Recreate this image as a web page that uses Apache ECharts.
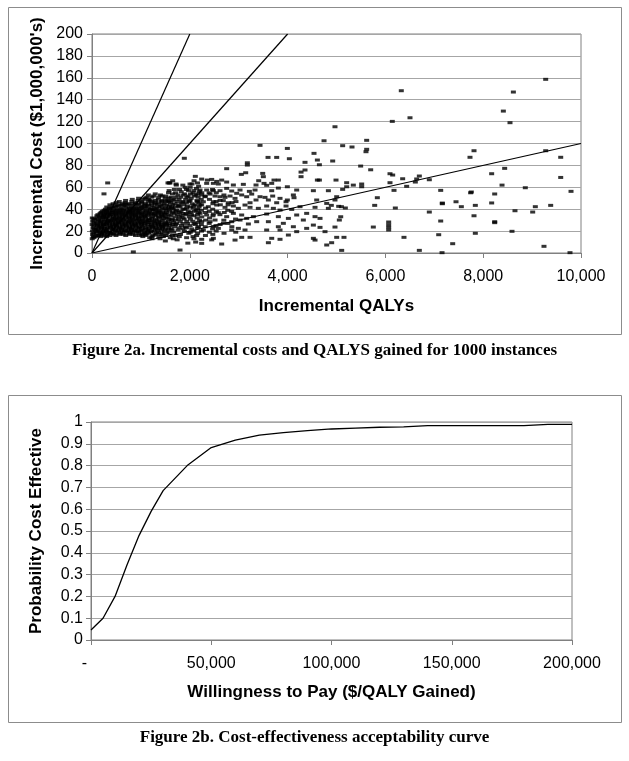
<!DOCTYPE html>
<html><head><meta charset="utf-8">
<script src="https://cdn.jsdelivr.net/npm/echarts@6.0.0/dist/echarts.min.js"></script>
<style>html,body{margin:0;padding:0;background:#fff}#c{width:629px;height:761px}</style>
</head><body><div id="c"></div>
<script>
// ---------- Figure 2a data (Incremental QALYs, Incremental Cost $1,000,000's) ----------
const denseClusterPoints = [
[5,13],[12,17],[8,20],[20,23],[3,26],[15,29],[6,32],[25,15],
[70,15],[95,18],[80,22],[105,25],[88,27],[60,31],[100,34],[75,20],
[140,16],[160,19],[130,21],[155,24],[170,28],[135,30],[150,33],[165,36],
[200,17],[220,20],[195,23],[230,26],[205,29],[215,32],[240,35],[210,38],
[260,18],[280,21],[255,24],[290,27],[270,31],[250,34],[285,37],[275,40],[245,54],
[320,17],[340,19],[310,22],[350,25],[330,28],[345,30],[315,33],[335,36],[325,39],[355,41],[321,64],
[390,18],[410,21],[380,24],[420,26],[395,29],[405,32],[385,35],[415,38],[400,42],
[450,17],[470,20],[445,23],[480,27],[460,30],[440,33],[475,36],[455,39],[465,43],
[510,19],[530,22],[505,25],[540,28],[520,31],[500,34],[535,37],[515,40],[525,44],
[580,18],[600,21],[575,24],[610,26],[590,29],[570,33],[605,35],[585,38],[595,41],[615,45],
[640,17],[660,20],[635,23],[670,27],[650,30],[630,32],[665,36],[645,39],[655,43],[675,46],
[710,19],[730,22],[705,25],[740,28],[720,31],[700,34],[735,37],[715,40],[725,44],
[780,18],[800,21],[775,24],[810,26],[790,30],[770,33],[805,35],[785,39],[795,42],[815,47],
[840,17],[860,20],[835,23],[870,27],[850,29],[830,32],[865,36],[845,38],[855,41],[875,45],[845,1],
[910,19],[930,22],[905,25],[940,28],[920,31],[900,34],[935,37],[915,40],[925,44],[945,48],
[980,16],[1000,20],[975,24],[1010,26],[990,29],[970,33],[1005,35],[985,39],[995,42],[1015,46],
[1040,15],[1060,18],[1035,21],[1070,25],[1050,28],[1030,31],[1065,34],[1045,37],[1055,41],[1075,44],[1050,49],
[1110,17],[1130,20],[1105,23],[1140,26],[1120,30],[1100,32],[1135,36],[1115,39],[1125,43],[1145,47],[1120,51],
[1180,14],[1200,19],[1175,22],[1210,25],[1190,28],[1170,31],[1205,35],[1185,38],[1195,40],[1215,45],[1190,48],
[1250,16],[1270,20],[1245,24],[1280,27],[1260,29],[1240,33],[1275,36],[1255,39],[1265,42],[1285,46],[1260,52],
[1320,18],[1340,21],[1315,23],[1350,26],[1330,30],[1310,34],[1345,37],[1325,41],[1335,44],[1355,49],
[1390,13],[1410,17],[1385,22],[1420,25],[1400,28],[1380,32],[1415,35],[1395,38],[1405,43],[1425,47],[1400,53],
[1460,15],[1480,20],[1455,24],[1490,27],[1470,31],[1450,33],[1485,36],[1465,40],[1475,45],[1495,50],
[1530,18],[1550,21],[1525,26],[1560,29],[1540,32],[1520,37],[1555,41],[1535,44],[1545,48],[1565,55],
[1600,14],[1620,22],[1595,25],[1630,30],[1610,34],[1590,38],[1625,42],[1605,46],[1615,51]
];
const denseClusterFill = [
[40,14],[35,18],[45,22],[38,25],[42,28],[36,31],
[115,16],[110,20],[120,23],[112,26],[118,29],[108,32],[122,35],
[185,15],[180,18],[190,22],[183,25],[188,27],[178,31],[192,34],[186,37],
[245,16],[240,19],[250,22],[242,26],[248,29],[238,33],[252,36],[246,39],
[300,15],[296,20],[305,23],[298,26],[303,29],[294,32],[306,35],[300,38],[302,42],
[365,16],[360,19],[370,23],[362,27],[368,30],[358,34],[372,37],[364,40],[366,44],
[430,18],[425,22],[435,25],[428,28],[432,31],[422,35],[437,37],[429,41],[431,45],
[490,16],[485,21],[495,24],[488,26],[492,29],[482,32],[497,35],[489,38],[491,42],[493,46],
[555,17],[550,20],[560,23],[552,27],[558,30],[548,32],[562,36],[554,39],[556,43],[557,47],
[620,19],[615,22],[625,25],[618,28],[622,31],[612,34],[627,37],[619,40],[621,44],
[690,16],[685,21],[695,24],[688,26],[692,29],[682,33],[697,35],[689,38],[691,42],[693,45],[687,48],
[760,17],[755,20],[765,23],[758,27],[762,29],[752,32],[767,36],[759,38],[761,41],[763,45],
[820,19],[815,22],[825,25],[818,28],[822,31],[812,34],[827,37],[819,40],[821,44],[823,49],
[890,16],[885,21],[895,24],[888,26],[892,30],[882,33],[897,35],[889,39],[891,42],[893,46],
[955,18],[950,20],[960,23],[952,27],[958,30],[948,32],[962,36],[954,38],[956,41],[957,45],[953,50],
[1020,17],[1015,22],[1025,24],[1018,27],[1022,30],[1012,33],[1027,36],[1019,40],[1021,43],[1023,47],
[1090,16],[1085,19],[1095,22],[1088,27],[1092,29],[1082,33],[1097,35],[1089,38],[1091,42],[1093,45],[1087,50],
[1155,18],[1150,21],[1160,24],[1152,28],[1158,30],[1148,34],[1162,37],[1154,41],[1156,44],[1157,49],[1153,53],
[1225,15],[1220,20],[1230,23],[1222,26],[1228,30],[1218,32],[1232,36],[1224,40],[1226,43],[1227,47],[1223,51],
[1295,17],[1290,22],[1300,25],[1292,28],[1298,31],[1288,35],[1302,38],[1294,40],[1296,45],[1297,48],[1293,54],
[1365,15],[1360,19],[1370,24],[1362,27],[1368,29],[1358,33],[1372,36],[1364,39],[1366,42],[1367,46],[1363,51],
[1435,18],[1430,21],[1440,23],[1432,26],[1438,30],[1428,34],[1442,37],[1434,41],[1436,44],[1437,48],[1433,52],
[1505,16],[1500,22],[1510,25],[1502,28],[1508,33],[1498,35],[1512,39],[1504,42],[1506,47],[1507,52],
[1575,19],[1570,23],[1580,27],[1572,31],[1578,35],[1568,40],[1582,43],[1574,47],[1576,50],[1577,57],
[1645,16],[1640,21],[1650,26],[1642,31],[1648,37],[1638,41],[1652,44],[1644,48],[1646,54]
];
const transitionPoints = [
[1670,19],[1690,24],[1665,28],[1700,33],[1680,36],[1660,40],[1695,45],[1675,49],[1685,58],
[1740,12],[1760,21],[1735,27],[1770,31],[1750,35],[1730,39],[1765,43],[1745,47],[1755,53],
[1810,17],[1830,25],[1805,29],[1840,34],[1820,38],[1800,42],[1835,46],[1815,51],[1825,56],
[1890,20],[1910,24],[1885,31],[1920,36],[1900,40],[1880,44],[1915,49],[1895,54],[1905,60],
[1960,9],[1980,18],[1955,27],[1990,33],[1970,38],[1950,43],[1985,47],[1965,52],[1975,57],
[2040,22],[2060,29],[2035,35],[2070,41],[2050,45],[2030,50],[2065,55],[2045,63],
[2120,10],[2140,16],[2115,26],[2150,32],[2130,39],[2110,44],[2145,48],[2125,53],[2135,59],
[2180,24],[2200,30],[2175,37],[2190,42],[2185,46],[2170,51],[2195,56],[2180,61],
[1554,64],[1724,62],[2113,70],[1581,64],[1718,63],[2004,63],[1888,86.5],[1800,2.7],
[2066,15],[1663,13],[1500,11],[1227,13],[1595,64],[1650,66],[2448,12]
];
const transitionFill = [
[1710,16],[1712,26],[1708,30],[1714,38],[1706,42],[1711,51],[1709,55],
[1785,15],[1782,23],[1788,33],[1784,37],[1786,44],[1781,49],[1789,58],
[1860,22],[1857,27],[1863,32],[1859,36],[1861,40],[1856,47],[1864,53],[1858,62],
[1935,14],[1932,23],[1938,29],[1934,35],[1936,41],[1931,46],[1939,51],[1933,58],
[2010,19],[2007,25],[2013,31],[2009,37],[2011,42],[2006,48],[2014,54],[2008,60],
[2085,13],[2082,20],[2088,27],[2084,34],[2086,38],[2081,43],[2089,52],[2083,57],[2087,66],
[2160,18],[2157,23],[2163,28],[2159,35],[2161,40],[2156,47],[2164,54],[2158,64],
[2240,20],[2236,26],[2244,33],[2238,39],[2242,44],[2235,49],[2245,55],
[2320,16],[2316,24],[2324,30],[2318,37],[2322,41],[2315,52],
[2400,19],[2396,27],[2404,32],[2398,38],[2402,49],[2395,55],
[2470,17],[2466,22],[2474,34],[2468,40],[2472,45],[2465,58],
[2540,20],[2536,25],[2544,38],[2538,47],[2542,55],
[2620,26],[2616,35],[2624,44],[2618,48],
[2700,18],[2696,30],[2704,37],[2698,53],
[2780,27],[2776,39],[2784,44],
[2860,24],[2856,38],[2864,46],
[2940,19],[2936,31],[2944,47]
];
const midRangePoints = [
[4745,102.5],[3436,98.3],[3995,95.5],[4540,91],[3600,87.3],[3777,87.3],[4036,86.1],[4609,84.9],
[4356,82.8],[3177,82.4],[3177,80.3],[4650,80.6],[2754,77],[4356,75.8],[4275,73.9],[3143,73.3],
[3491,72.7],[3054,71.8],[4275,69.7],[3504,69.7],[2243,67.5],[2359,66.6],[2448,67.2],[2550,65.4],
[2652,66.6],[2754,64.8],[3409,66],[3722,66.6],[3811,66.6],[4609,66.6],[4650,66.6],[3518,63.6],
[3675,63.6],[2345,63.6],[2482,63.6],[2584,63],[2891,62.1],[3095,62.7],[3354,62.1],[3572,61.8],
[3811,59.3],[3995,60.5],[4186,57.5],[4527,56.9],[4834,56.9],[2209,57.5],[2345,57.5],[2482,56.9],
[2618,56.9],[2754,59],[2857,56.6],[3027,57.5],[3218,56.3],[3334,57.5],[3675,56.9],[2959,54.5],
[2243,53],[2311,51.4],[2414,53.8],[2516,52],[2618,51.4],[2720,50.8],[2823,52],[2925,49.9],
[3061,53],[3163,51.4],[3266,53.8],[3354,48.4],[3436,51.4],[3538,50.8],[3607,48.4],[3695,52],
[3845,49.9],[3968,46.8],[4118,53],[4131,50.5],[4595,48.4],[2277,46.8],[2482,46.8],[2686,47.8],
[2788,45.9],[3232,45.9],[3777,45.9],[3995,48.4],[2209,43.8],[2379,42.3],[2550,43.8],[2720,41.7],
[2891,42.9],[2993,40.8],[3129,43.8],[3232,41.7],[3402,40.8],[3572,42.9],[3709,40.8],[3845,39.2],
[3968,42.9],[4084,39.8],[4254,42.3],[4561,41.7],[4800,45.3],[4834,40.8],[2209,36.2],[2345,34.7],
[2482,35.6],[2584,36.8],[2754,33.2],[2891,36.2],[3061,34.7],[3163,31.6],[3300,33.2],[3572,35.6],
[3811,33.2],[4016,31.6],[4186,34.7],[4390,36.2],[4561,33.2],[4663,31.6],[2243,28.6],[2414,28.6],
[2516,30.1],[2686,27.1],[2857,28.6],[3027,30.1],[3198,26.5],[3368,28.6],[3607,28.6],[3811,24],
[3913,27.1],[4118,24],[4322,30.1],[4527,25.5],[4663,23.4],[2277,21],[2482,24],[2584,22.5],
[2857,21],[2993,22.5],[3129,21],[3572,21],[3845,21],[4186,19.5],[4390,22.5],[4765,19.5],
[2243,12.5],[2482,13.4],[2652,8.2],[2925,11.8],[3061,14.3],[3232,14.3],[3675,13.4],[3845,12.5],
[4016,16.4],[4527,13.4],[4561,11.8],[4800,7.3],[3607,9.4],[2243,8.8]
];
const upperRangePoints = [
[6325,148.2],[6503,123.5],[6141,120.2],[4969,115.3],[5617,102.9],[5126,98],[5317,96.8],[5617,94.7],
[5603,92.5],[4922,84],[5494,79.4],[5699,76],[6094,72.4],[6149,71.2],[6353,67.8],[6694,70.3],
[6640,67.6],[6612,64.8],[6898,66.9],[6094,64.2],[6435,60.9],[6176,57.2],[7131,57.2],[4990,66.6],
[5208,64.2],[5208,60.5],[5344,62],[5515,63],[5515,60.5],[5126,58.1],[5004,51.4],[4969,48.4],
[5835,50.5],[5781,43.5],[6203,41.1],[7164,45],[7164,45.6],[5045,42.6],[5100,42.3],[5181,41.1],
[4894,43.5],[5086,33.1],[5058,30.1],[6898,37.4],[7131,29.2],[4969,23.7],[5753,23.7],[6067,28.3],
[6067,25.8],[6067,23.4],[6067,21],[5004,14.3],[5153,14.3],[6380,14.3],[7090,16.7],[4901,9.4],
[5106,2.4],[6694,2.4],[7158,0.3]
];
const farRangePoints = [
[9278,158.6],[8617,147],[8412,129.6],[8548,119],[7812,93.4],[7730,87.4],[9278,93.4],[9585,87.4],
[8439,77.3],[8173,72.4],[9585,69],[8385,62],[8861,59.6],[7757,55.7],[7743,55],[8235,53.9],
[9796,56.3],[7444,46.8],[7553,42.3],[7839,43.5],[8173,45.7],[9380,43.5],[9066,42.3],[9012,37.4],
[8650,38.6],[7812,34],[8235,27.7],[8235,28.6],[7839,18],[8589,19.8],[7376,8.5],[9243,6.1],[9775,0.3]
];
// Reference willingness-to-pay lines through the origin
const wtpLine100k = [[0,0],[2000,200]];
const wtpLine50k = [[0,0],[4000,200]];
const wtpLine10k = [[0,0],[10000,100]];

// ---------- Figure 2b data (CEAC) ----------
const ceacWtp = [0,5000,10000,15000,20000,25000,30000,40000,50000,60000,70000,80000,90000,100000,110000,120000,130000,140000,150000,160000,170000,180000,190000,200000];
const ceacProb = [0.046,0.10,0.20,0.345,0.48,0.59,0.685,0.80,0.883,0.917,0.94,0.951,0.96,0.968,0.972,0.976,0.978,0.983,0.983,0.983,0.983,0.983,0.989,0.989];

const caption2a = 'Figure 2a. Incremental costs and QALYS gained for 1000 instances';
const caption2b = 'Figure 2b. Cost-effectiveness acceptability curve';

const allScatter = [].concat(denseClusterPoints, denseClusterFill, transitionPoints, transitionFill, midRangePoints, upperRangePoints, farRangePoints);
const ceacData = ceacWtp.map((w, i) => [w, ceacProb[i]]);

const SANS = "'Liberation Sans', Arial, sans-serif";
const SERIF = "'Liberation Serif', 'Times New Roman', serif";
const comma = v => v.toLocaleString('en-US');
const axisBase = {
  axisLine: {show: true, lineStyle: {color: '#808080', width: 1}},
  axisTick: {show: true, inside: false, length: 5, lineStyle: {color: '#808080'}},
  axisLabel: {color: '#000', fontFamily: SANS, fontSize: 16},
  nameTextStyle: {color: '#000', fontFamily: SANS, fontSize: 17, fontWeight: 'bold'},
  nameLocation: 'middle'
};

const chart = echarts.init(document.getElementById('c'), null, {renderer: 'canvas'});
chart.setOption({
  animation: false,
  backgroundColor: '#fff',
  title: [
    {text: caption2a, left: 'center', top: 342, padding: 0, textStyle: {fontFamily: SERIF, fontWeight: 'bold', fontSize: 17, color: '#000'}},
    {text: caption2b, left: 'center', top: 729, padding: 0, textStyle: {fontFamily: SERIF, fontWeight: 'bold', fontSize: 17, color: '#000'}}
  ],
  graphic: [
    {type: 'rect', silent: true, shape: {x: 8.5, y: 7.5, width: 613, height: 327}, style: {fill: 'none', stroke: '#8c8c8c', lineWidth: 1}},
    {type: 'rect', silent: true, shape: {x: 8.5, y: 395.5, width: 613, height: 327}, style: {fill: 'none', stroke: '#8c8c8c', lineWidth: 1}}
  ],
  grid: [
    {left: 92, top: 34, width: 489, height: 219, show: true, borderColor: '#808080', borderWidth: 1, backgroundColor: 'transparent'},
    {left: 91, top: 422, width: 481, height: 218, show: true, borderColor: '#808080', borderWidth: 1, backgroundColor: 'transparent'}
  ],
  xAxis: [
    Object.assign({}, axisBase, {gridIndex: 0, type: 'value', min: 0, max: 10000, interval: 2000,
      name: 'Incremental QALYs', nameGap: 45, splitLine: {show: false},
      axisLabel: Object.assign({}, axisBase.axisLabel, {margin: 16, formatter: comma})}),
    Object.assign({}, axisBase, {gridIndex: 1, type: 'value', min: 0, max: 200000, interval: 50000,
      name: 'Willingness to Pay ($/QALY Gained)', nameGap: 44, splitLine: {show: false},
      axisLabel: Object.assign({}, axisBase.axisLabel, {margin: 16, formatter: v => v === 0 ? '-   ' : comma(v)})})
  ],
  yAxis: [
    Object.assign({}, axisBase, {gridIndex: 0, type: 'value', min: 0, max: 200, interval: 20,
      name: "Incremental Cost ($1,000,000's)", nameGap: 46,
      splitLine: {show: true, lineStyle: {color: '#a6a6a6', width: 1}},
      axisLabel: Object.assign({}, axisBase.axisLabel, {margin: 9})}),
    Object.assign({}, axisBase, {gridIndex: 1, type: 'value', min: 0, max: 1, interval: 0.1,
      name: 'Probability Cost Effective', nameGap: 46,
      splitLine: {show: true, lineStyle: {color: '#a6a6a6', width: 1}},
      axisLabel: Object.assign({}, axisBase.axisLabel, {margin: 8, formatter: v => String(Math.round(v * 10) / 10)})})
  ],
  series: [
    {type: 'scatter', xAxisIndex: 0, yAxisIndex: 0, data: allScatter, symbol: 'rect', symbolSize: [5, 3],
      itemStyle: {color: '#000'}, silent: true, z: 3, large: false},
    {type: 'line', xAxisIndex: 0, yAxisIndex: 0, data: wtpLine100k, symbol: 'none', lineStyle: {color: '#000', width: 1.2}, z: 4, silent: true},
    {type: 'line', xAxisIndex: 0, yAxisIndex: 0, data: wtpLine50k, symbol: 'none', lineStyle: {color: '#000', width: 1.2}, z: 4, silent: true},
    {type: 'line', xAxisIndex: 0, yAxisIndex: 0, data: wtpLine10k, symbol: 'none', lineStyle: {color: '#000', width: 1.2}, z: 4, silent: true},
    {type: 'line', xAxisIndex: 1, yAxisIndex: 1, data: ceacData, symbol: 'none', lineStyle: {color: '#000', width: 1.3}, z: 4, silent: true}
  ]
});
</script>
</body></html>
